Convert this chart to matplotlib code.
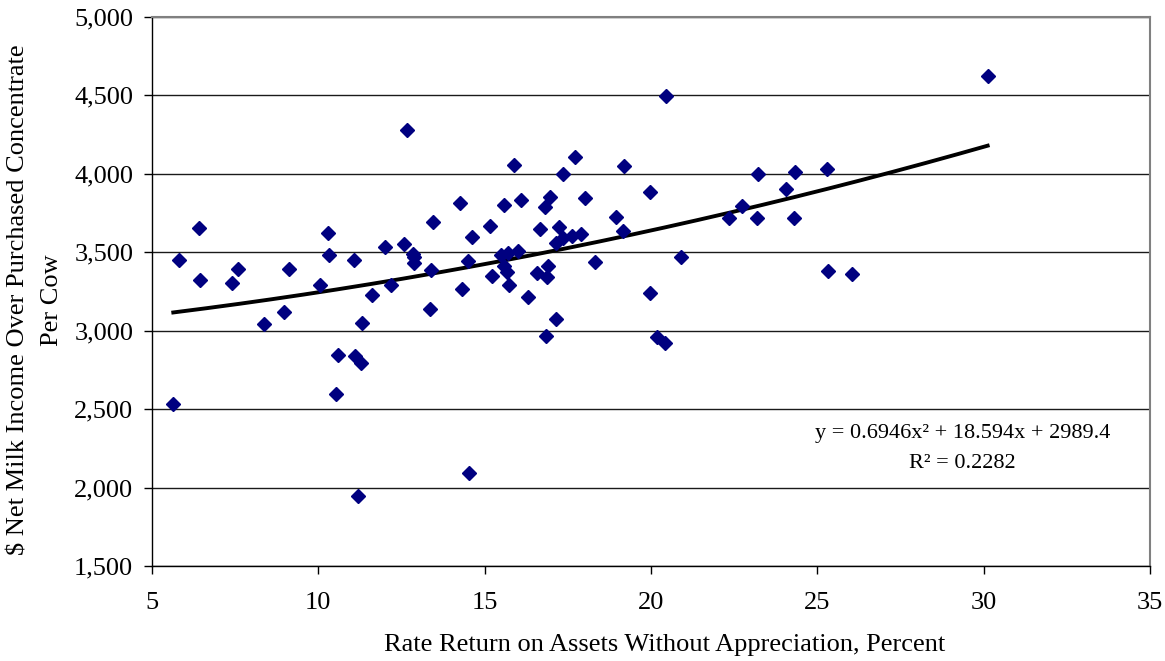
import numpy as np
import matplotlib
matplotlib.use('Agg')
import matplotlib.pyplot as plt
from matplotlib.ticker import StrMethodFormatter

# herd records: return on assets (%) vs net milk income over purchased concentrate ($/cow)
roa = [5.64, 5.81, 6.40, 6.44, 7.41, 7.58, 8.38, 8.98, 9.11, 10.05,
       10.28, 10.31, 10.54, 10.58, 11.06, 11.11, 11.19, 11.27, 11.31, 11.62,
       12.00, 12.19, 12.57, 12.66, 12.85, 12.88, 12.88, 13.36, 13.40, 13.44,
       14.26, 14.31, 14.51, 14.53, 14.62, 15.16, 15.21, 15.49, 15.58, 15.59,
       15.66, 15.71, 15.73, 15.87, 16.01, 16.09, 16.29, 16.56, 16.65, 16.81,
       16.83, 16.86, 16.90, 16.95, 17.13, 17.14, 17.24, 17.35, 17.35, 17.62,
       17.72, 17.89, 18.02, 18.31, 18.95, 19.16, 19.20, 19.96, 19.96, 20.18,
       20.42, 20.45, 20.89, 22.34, 22.73, 23.18, 23.22, 24.06, 24.30, 24.32,
       25.30, 25.33, 26.03, 30.12]
income = [2533, 3449, 3653, 3323, 3302, 3393, 3041, 3121, 3392, 3290,
          3625, 3481, 2599, 2845, 3451, 2837, 1944, 2792, 3051, 3228,
          3534, 3292, 3553, 4278, 3487, 3470, 3434, 3138, 3387, 3693,
          3812, 3268, 3443, 2093, 3597, 3668, 3349, 3483, 3803, 3413,
          3376, 3494, 3290, 4059, 3510, 3831, 3217, 3366, 3648, 3787,
          2968, 3341, 3415, 3854, 3077, 3557, 3659, 3591, 4001, 3602,
          4109, 3617, 3846, 3436, 3723, 3634, 4048, 3884, 3239, 2958,
          2920, 4498, 3468, 3721, 3797, 3717, 3997, 3906, 3717, 4010,
          4031, 3383, 3363, 4622]

# polynomial trendline coefficients (a*x^2 + b*x + c)
a, b, c = 0.6946, 18.594, 2989.4
r2 = 0.2282

plt.rcParams['font.family'] = 'Liberation Serif'

fig = plt.figure(figsize=(11.65, 6.61), dpi=100)
ax = fig.add_axes([152/1165, 1-566/661, 998/1165, 549/661])

xs = np.linspace(min(roa), max(roa), 200)
ax.plot(xs, a*xs**2 + b*xs + c, color='black', lw=2.8, zorder=2)
ax.plot(roa, income, ls='none', marker='D', ms=7, color='#000080', mec='#000080', zorder=3)

ax.set_xlim(5, 35)
ax.set_ylim(1500, 5000)
ax.set_xticks(range(5, 36, 5))
ax.set_yticks(range(1500, 5001, 500))
ax.yaxis.set_major_formatter(StrMethodFormatter('{x:,.0f}'))
ax.grid(axis='y', color='#1a1a1a', lw=1.0)
ax.set_axisbelow(True)

for s in ['top', 'right']:
    ax.spines[s].set_color('#808080')
    ax.spines[s].set_linewidth(1.5)
for s in ['left', 'bottom']:
    ax.spines[s].set_color('black')
    ax.spines[s].set_linewidth(1.0)

ax.tick_params(axis='both', direction='out', length=5.5, width=1.0, labelsize=19)
ax.tick_params(axis='y', pad=8)
ax.tick_params(axis='x', pad=13)

ax.text(0.812, 0.214, f'y = {a}x\u00b2 + {b}x + {c}\nR\u00b2 = {r2}',
        transform=ax.transAxes, ha='center', va='center', multialignment='center',
        fontsize=16, linespacing=1.8)

fig.text(665/1165, 1-645/661, 'Rate Return on Assets Without Appreciation, Percent',
         ha='center', va='center', fontsize=19)
fig.text(35/1165, 1-300/661, '$ Net Milk Income Over Purchased Concentrate\nPer Cow',
         ha='center', va='center', rotation=90, multialignment='center',
         fontsize=19, linespacing=1.66)

fig.savefig('out.png', dpi=100)
